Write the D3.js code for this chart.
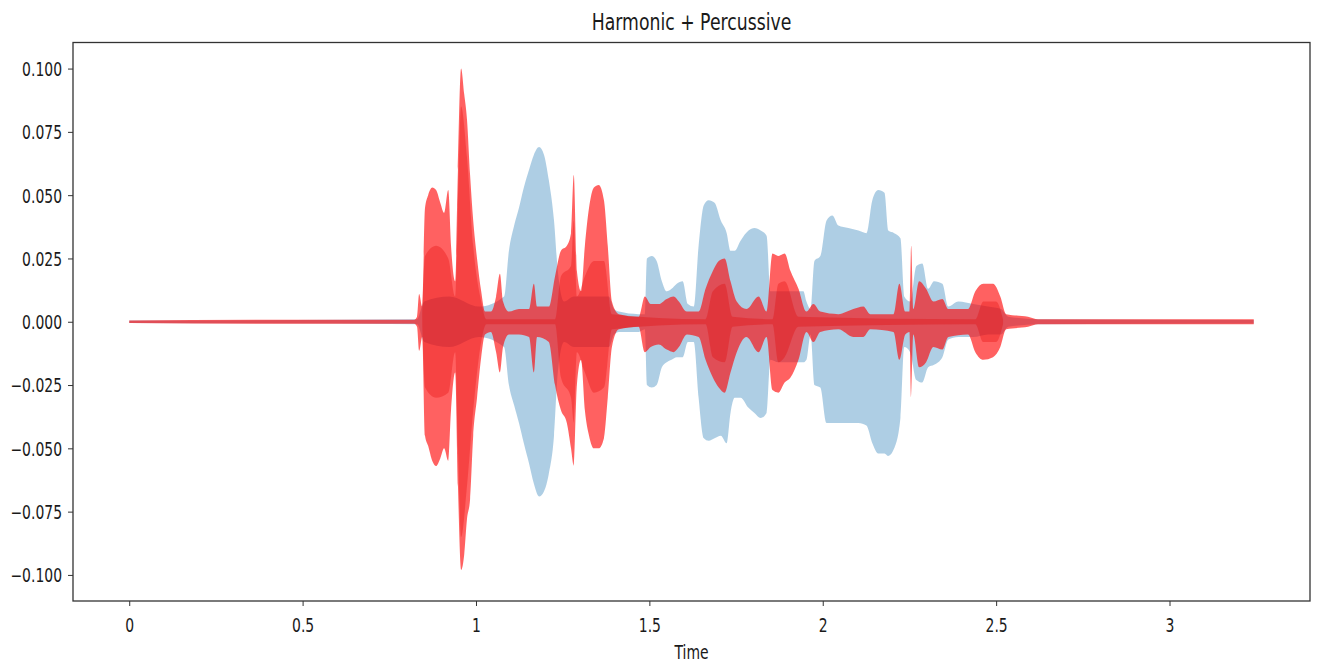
<!DOCTYPE html>
<html>
<head>
<meta charset="utf-8">
<script src="https://cdn.jsdelivr.net/npm/d3@7"></script>
<style>
  body { margin: 0; background: #fff; }
  text { font-family: "DejaVu Sans", sans-serif; fill: #1a1a1a; }
</style>
</head>
<body>
<svg id="chart" width="1320" height="666"></svg>
<script>
// harmonic / percussive envelopes, [time (s), upper, lower]
const harmonic = [
  [0, 0.0005, -0.0005], [0.830, 0.001, -0.001], [0.851, 0.008, -0.008], [0.923, 0.010, -0.010],
  [1.009, 0.006, -0.006], [1.081, 0.010, -0.010], [1.095, 0.028, -0.025], [1.110, 0.038, -0.033],
  [1.124, 0.045, -0.040], [1.138, 0.053, -0.048], [1.153, 0.060, -0.056], [1.167, 0.066, -0.064],
  [1.182, 0.069, -0.069], [1.196, 0.066, -0.067], [1.210, 0.056, -0.060], [1.225, 0.040, -0.045],
  [1.236, 0.020, -0.020], [1.254, 0.008, -0.008], [1.282, 0.010, -0.010], [1.383, 0.010, -0.010],
  [1.398, 0.005, -0.005], [1.412, 0.004, -0.004], [1.469, 0.003, -0.004], [1.487, 0.003, -0.003],
  [1.493, 0.025, -0.025], [1.507, 0.026, -0.026], [1.521, 0.024, -0.025], [1.536, 0.016, -0.018],
  [1.550, 0.012, -0.016], [1.564, 0.013, -0.015], [1.579, 0.015, -0.014], [1.596, 0.016, -0.014],
  [1.611, 0.007, -0.008], [1.628, 0.006, -0.008], [1.642, 0.030, -0.030], [1.657, 0.046, -0.046],
  [1.671, 0.048, -0.047], [1.688, 0.047, -0.046], [1.706, 0.040, -0.045], [1.723, 0.035, -0.048],
  [1.734, 0.028, -0.036], [1.746, 0.028, -0.030], [1.763, 0.032, -0.030], [1.786, 0.036, -0.034],
  [1.803, 0.037, -0.036], [1.821, 0.036, -0.038], [1.838, 0.034, -0.036], [1.849, 0.012, -0.015],
  [1.872, 0.012, -0.016], [1.944, 0.012, -0.016], [1.953, 0.008, -0.015], [1.965, 0.005, -0.005],
  [1.976, 0.024, -0.025], [1.993, 0.026, -0.026], [2.011, 0.040, -0.040], [2.028, 0.042, -0.040],
  [2.045, 0.038, -0.040], [2.074, 0.037, -0.040], [2.103, 0.036, -0.040], [2.126, 0.035, -0.041],
  [2.143, 0.048, -0.048], [2.160, 0.052, -0.052], [2.178, 0.051, -0.052], [2.189, 0.036, -0.053],
  [2.206, 0.035, -0.050], [2.224, 0.033, -0.038], [2.235, 0.010, -0.010], [2.252, 0.008, -0.012],
  [2.270, 0.022, -0.023], [2.287, 0.023, -0.024], [2.304, 0.013, -0.018], [2.321, 0.016, -0.017],
  [2.345, 0.015, -0.014], [2.362, 0.006, -0.007], [2.391, 0.008, -0.006], [2.434, 0.007, -0.006],
  [2.477, 0.006, -0.005], [2.514, 0.005, -0.005], [2.535, 0.002, -0.002], [2.621, 0.001, -0.001],
  [3.243, 0.0007, -0.0007]
];

const percussive = [
  [0, 0.0005, -0.0005], [0.491, 0.0008, -0.0008], [0.822, 0.0008, -0.0008], [0.830, 0.002, -0.002],
  [0.836, 0.011, -0.0115], [0.845, 0.006, -0.006], [0.853, 0.045, -0.045], [0.862, 0.050, -0.049],
  [0.874, 0.053, -0.055], [0.885, 0.052, -0.057], [0.897, 0.047, -0.054], [0.908, 0.043, -0.050],
  [0.920, 0.052, -0.055], [0.928, 0.030, -0.035], [0.940, 0.016, -0.020], [0.948, 0.060, -0.065],
  [0.957, 0.100, -0.098], [0.966, 0.090, -0.092], [0.974, 0.080, -0.078], [0.983, 0.058, -0.070],
  [0.992, 0.040, -0.045], [1.003, 0.025, -0.030], [1.015, 0.012, -0.014], [1.026, 0.004, -0.005],
  [1.043, 0.004, -0.004], [1.058, 0.010, -0.012], [1.069, 0.019, -0.020], [1.078, 0.008, -0.010],
  [1.095, 0.004, -0.005], [1.124, 0.005, -0.005], [1.153, 0.005, -0.006], [1.167, 0.015, -0.020],
  [1.176, 0.006, -0.006], [1.210, 0.006, -0.008], [1.228, 0.018, -0.025], [1.245, 0.028, -0.035],
  [1.262, 0.030, -0.040], [1.274, 0.035, -0.050], [1.282, 0.058, -0.057], [1.291, 0.020, -0.025],
  [1.303, 0.012, -0.015], [1.314, 0.030, -0.035], [1.326, 0.045, -0.045], [1.340, 0.053, -0.050],
  [1.354, 0.054, -0.050], [1.369, 0.048, -0.046], [1.380, 0.030, -0.030], [1.392, 0.008, -0.010],
  [1.412, 0.003, -0.003], [1.469, 0.002, -0.002], [1.487, 0.010, -0.012], [1.504, 0.007, -0.010],
  [1.527, 0.007, -0.009], [1.550, 0.009, -0.011], [1.570, 0.010, -0.012], [1.585, 0.008, -0.010],
  [1.608, 0.004, -0.005], [1.642, 0.004, -0.006], [1.662, 0.013, -0.015], [1.683, 0.020, -0.022],
  [1.700, 0.024, -0.026], [1.717, 0.025, -0.028], [1.734, 0.016, -0.020], [1.752, 0.008, -0.012],
  [1.780, 0.005, -0.006], [1.815, 0.010, -0.012], [1.838, 0.004, -0.006], [1.855, 0.027, -0.027],
  [1.872, 0.026, -0.028], [1.890, 0.027, -0.024], [1.907, 0.020, -0.022], [1.930, 0.013, -0.015],
  [1.953, 0.004, -0.004], [1.973, 0.007, -0.008], [1.993, 0.004, -0.004], [2.045, 0.003, -0.003],
  [2.088, 0.005, -0.006], [2.117, 0.006, -0.006], [2.137, 0.003, -0.003], [2.204, 0.003, -0.004],
  [2.221, 0.015, -0.015], [2.238, 0.004, -0.005], [2.250, 0.004, -0.004], [2.255, 0.030, -0.030],
  [2.261, 0.005, -0.005], [2.278, 0.016, -0.018], [2.298, 0.013, -0.016], [2.319, 0.008, -0.010],
  [2.345, 0.009, -0.011], [2.362, 0.005, -0.006], [2.419, 0.005, -0.005], [2.440, 0.012, -0.012],
  [2.463, 0.015, -0.015], [2.491, 0.015, -0.014], [2.512, 0.010, -0.010], [2.529, 0.003, -0.003],
  [2.592, 0.002, -0.002], [2.621, 0.001, -0.001], [3.243, 0.001, -0.001]
];

// darker inner part of the percussive bursts
const percussiveCore = [
  [0.845, 0.001, -0.001], [0.853, 0.026, -0.026], [0.885, 0.030, -0.030], [0.920, 0.025, -0.028],
  [0.940, 0.010, -0.012], [0.948, 0.045, -0.050], [0.957, 0.085, -0.085], [0.974, 0.065, -0.065],
  [0.992, 0.030, -0.035], [1.015, 0.008, -0.008], [1.030, 0.001, -0.001], [1.228, 0.001, -0.001],
  [1.245, 0.018, -0.022], [1.274, 0.022, -0.030], [1.282, 0.040, -0.040], [1.291, 0.010, -0.012],
  [1.314, 0.018, -0.020], [1.340, 0.024, -0.028], [1.369, 0.024, -0.026], [1.392, 0.003, -0.003],
  [1.662, 0.001, -0.001], [1.683, 0.012, -0.014], [1.717, 0.015, -0.016], [1.740, 0.002, -0.002],
  [1.855, 0.001, -0.001], [1.872, 0.015, -0.016], [1.890, 0.016, -0.014], [1.930, 0.002, -0.002],
  [2.440, 0.001, -0.001], [2.463, 0.008, -0.008], [2.500, 0.008, -0.008], [2.520, 0.001, -0.001]
];

const xTicks = [0, 0.5, 1, 1.5, 2, 2.5, 3];
const xTickLabels = ['0', '0.5', '1', '1.5', '2', '2.5', '3'];
const yTicks = [0.1, 0.075, 0.05, 0.025, 0, -0.025, -0.05, -0.075, -0.1];

const duration = 3.243;
const yMax = 0.1103;
const squeeze = 0.735; // text in the picture is horizontally narrow

const plot = { left: 73, right: 1310, top: 42.5, bottom: 601 };
const svg = d3.select('#chart');

let pad = duration * 0.05;
let x = d3.scaleLinear().domain([-pad, duration + pad]).range([plot.left, plot.right]);
let y = d3.scaleLinear().domain([-yMax, yMax]).range([plot.bottom, plot.top]);

let area = d3.area()
  .curve(d3.curveMonotoneX)
  .x(function(d) { return x(d[0]); })
  .y0(function(d) { return y(d[2]); })
  .y1(function(d) { return y(d[1]); });

svg.append('path')
  .datum(harmonic)
  .attr('d', area)
  .attr('fill', '#1f77b4')
  .attr('fill-opacity', 0.36);

svg.append('path')
  .datum(percussive)
  .attr('d', area)
  .attr('fill', '#ff0000')
  .attr('fill-opacity', 0.62);

svg.append('path')
  .datum(percussiveCore)
  .attr('d', area)
  .attr('fill', '#e00000')
  .attr('fill-opacity', 0.3);

// axes
let xAxis = svg.append('g')
  .attr('transform', 'translate(0,' + plot.bottom + ')')
  .call(d3.axisBottom(x).tickValues(xTicks).tickSize(5)
    .tickFormat(function(d, i) { return xTickLabels[i]; }));
xAxis.selectAll('text')
  .attr('y', 31).attr('dy', 0)
  .attr('transform', 'scale(' + squeeze + ',1)');

let yAxis = svg.append('g')
  .attr('transform', 'translate(' + plot.left + ',0)')
  .call(d3.axisLeft(y).tickValues(yTicks).tickSize(5).tickFormat(d3.format('.3f')));
yAxis.selectAll('text')
  .attr('x', -11 / squeeze)
  .attr('dy', '0.36em')
  .attr('transform', 'scale(' + squeeze + ',1)');

svg.selectAll('.domain').remove();
svg.selectAll('.tick line').attr('stroke', '#333');
svg.selectAll('.tick text').style('font-size', '19px').attr('fill', '#1a1a1a');

svg.append('rect')
  .attr('x', plot.left).attr('y', plot.top)
  .attr('width', plot.right - plot.left).attr('height', plot.bottom - plot.top)
  .attr('fill', 'none')
  .attr('stroke', '#333')
  .attr('stroke-width', 1.3);

let midX = (plot.left + plot.right) / 2;
svg.append('text')
  .attr('transform', 'translate(' + midX + ',30) scale(' + squeeze + ',1)')
  .attr('text-anchor', 'middle')
  .style('font-size', '23.5px')
  .text('Harmonic + Percussive');

svg.append('text')
  .attr('transform', 'translate(' + midX + ',659) scale(' + squeeze + ',1)')
  .attr('text-anchor', 'middle')
  .style('font-size', '19px')
  .text('Time');
</script>
</body>
</html>
